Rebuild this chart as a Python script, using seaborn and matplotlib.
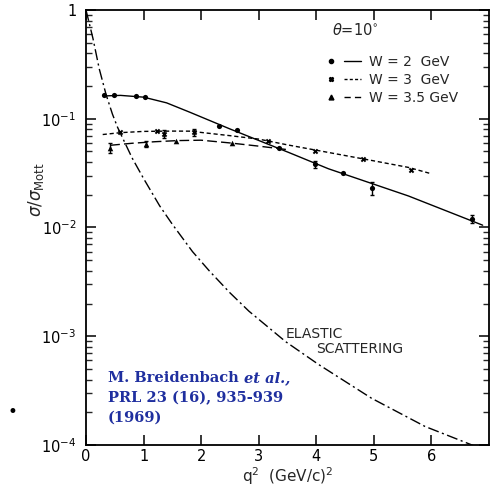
import numpy as np
import pandas as pd
import matplotlib
matplotlib.use("Agg")
import matplotlib.pyplot as plt
import seaborn as sns
from matplotlib.lines import Line2D
from matplotlib.legend_handler import HandlerTuple

# ---------------- data ----------------
w2_x = [0.31, 0.48, 0.86, 1.03, 2.31, 2.63, 3.36, 3.97, 4.46, 4.97, 6.70]
w2_y = [0.164, 0.164, 0.162, 0.160, 0.085, 0.078, 0.054, 0.038, 0.0315, 0.023, 0.0119]
w2_err = [0, 0, 0, 0, 0, 0, 0, 0.003, 0, 0.003, 0.001]

w3_x = [0.59, 1.24, 1.36, 1.87, 3.16, 3.97, 4.82, 5.65]
w3_y = [0.075, 0.077, 0.073, 0.075, 0.063, 0.051, 0.043, 0.034]
w3_err = [0, 0, 0.006, 0.006, 0, 0, 0, 0]

w35_x = [0.41, 1.04, 1.57, 2.53]
w35_y = [0.054, 0.059, 0.062, 0.060]
w35_err = [0.006, 0.004, 0, 0]

fit2_x = [0.30, 0.60, 1.00, 1.40, 1.80, 2.49, 3.52, 4.21, 5.60, 6.89]
fit2_y = [0.162, 0.164, 0.158, 0.140, 0.115, 0.081, 0.049, 0.0347, 0.0195, 0.0105]

fit3_x = [0.29, 0.60, 1.00, 1.50, 1.80, 2.49, 3.00, 3.50, 4.21, 5.00, 5.60, 5.97]
fit3_y = [0.0716, 0.0745, 0.0765, 0.0770, 0.0769, 0.0700, 0.0650, 0.0575, 0.049, 0.041, 0.0357, 0.0315]

fit35_x = [0.42, 0.80, 1.20, 1.60, 2.00, 2.49, 3.00, 3.50]
fit35_y = [0.057, 0.0595, 0.0615, 0.063, 0.0635, 0.060, 0.056, 0.052]

el_x = [0.0, 0.12, 0.23, 0.35, 0.46, 0.55, 0.80, 1.00, 1.28, 1.50, 1.85, 2.14,
        2.50, 2.83, 3.47, 4.04, 4.96, 5.89, 6.80, 7.00]
el_y = [1.0, 0.55, 0.288, 0.166, 0.110, 0.083, 0.0437, 0.0282, 0.0158, 0.0107,
        0.0060, 0.0040, 0.00251, 0.0017, 0.00089, 0.00055, 0.000269, 0.000148,
        0.0000955, 0.0000832]

x_ticks = [0, 1, 2, 3, 4, 5, 6]
x_ticklabels = ["0", "1", "2", "3", "4", "5", "6"]
y_ticks = [1e-4, 1e-3, 1e-2, 1e-1, 1]
y_ticklabels = ["$10^{-4}$", "$10^{-3}$", "$10^{-2}$", "$10^{-1}$", "1"]
legend_labels = ["W = 2  GeV", "W = 3  GeV", "W = 3.5 GeV"]

# ---------------- figure ----------------
sns.set_style("ticks")
plt.rcParams["font.family"] = ["DejaVu Sans"]
plt.rcParams["mathtext.fontset"] = "dejavusans"

fig = plt.figure(figsize=(4.91, 4.86), dpi=100)
ax = fig.add_axes([86 / 491, 1 - 445 / 486, 403 / 491, 435 / 486])
ax.set_yscale("log")
ax.set_xlim(0, 7)
ax.set_ylim(1e-4, 1)

lw = 1.0
sns.lineplot(x=fit2_x, y=fit2_y, ax=ax, color="k", lw=lw, sort=False, estimator=None)
sns.lineplot(x=fit3_x, y=fit3_y, ax=ax, color="k", lw=lw, sort=False, estimator=None,
             linestyle=(0, (3, 2)))
sns.lineplot(x=fit35_x, y=fit35_y, ax=ax, color="k", lw=lw, sort=False, estimator=None,
             linestyle=(0, (7, 3)))
sns.lineplot(x=el_x, y=el_y, ax=ax, color="k", lw=lw, sort=False, estimator=None,
             linestyle=(0, (8, 2.5, 1.5, 2.5)))

sns.scatterplot(x=w2_x, y=w2_y, ax=ax, color="k", marker="o", s=14, linewidth=0)
sns.scatterplot(x=w3_x, y=w3_y, ax=ax, color="k", marker="X", s=16, linewidth=0)
sns.scatterplot(x=w35_x, y=w35_y, ax=ax, color="k", marker="^", s=16, linewidth=0)
for xs, ys, es in [(w2_x, w2_y, w2_err), (w3_x, w3_y, w3_err), (w35_x, w35_y, w35_err)]:
    xs_e = [a for a, e in zip(xs, es) if e > 0]
    ys_e = [b for b, e in zip(ys, es) if e > 0]
    ee = [e for e in es if e > 0]
    ax.errorbar(xs_e, ys_e, yerr=ee, fmt="none", ecolor="k", elinewidth=1.0, capsize=1.5)

# ticks
ax.set_xticks(x_ticks)
ax.set_xticklabels(x_ticklabels)
ax.set_yticks(y_ticks)
ax.set_yticklabels(y_ticklabels)
ax.yaxis.set_minor_locator(matplotlib.ticker.LogLocator(base=10, subs=np.arange(2, 10)))
ax.yaxis.set_minor_formatter(matplotlib.ticker.NullFormatter())
ax.xaxis.set_minor_locator(matplotlib.ticker.NullLocator())
ax.tick_params(axis="both", which="major", direction="in", length=7, width=1.1,
               top=True, right=True, labelsize=10.5, pad=3, colors="k")
ax.tick_params(axis="y", which="minor", direction="in", length=4, width=1.0,
               left=True, right=True)
ax.tick_params(axis="y", which="major", pad=7)
for sp in ax.spines.values():
    sp.set_linewidth(1.3)
    sp.set_color("k")

ax.set_xlabel("q$^2$  (GeV/c)$^2$", fontsize=11, labelpad=1)
ax.set_ylabel(r"$\sigma/\sigma_{\rm Mott}$", fontsize=12)
ax.yaxis.set_label_coords(-0.10, 0.586)

# legend
h2 = (Line2D([], [], marker="o", ls="none", ms=3, color="k"), Line2D([], [], ls="-", lw=lw, color="k"))
h3 = (Line2D([], [], marker="X", ls="none", ms=3, color="k"), Line2D([], [], ls=(0, (2.2, 1.6)), lw=lw, color="k"))
h35 = (Line2D([], [], marker="^", ls="none", ms=3.5, color="k"), Line2D([], [], ls=(0, (4.5, 3)), lw=lw, color="k"))
ax.legend([h2, h3, h35], legend_labels, handler_map={tuple: HandlerTuple(ndivide=None, pad=0.3)},
          loc="upper left", bbox_to_anchor=((322 - 86) / 403, 1 - (55 - 10) / 435),
          frameon=False, fontsize=10, handlelength=2.8, handletextpad=0.55,
          labelspacing=0.3, borderpad=0, borderaxespad=0)

ax.text((332 - 86) / 403, 1 - (30 - 10) / 435, r"$\theta$=10$^{\circ}$", transform=ax.transAxes,
        fontsize=10.5, va="center", ha="left")
ax.text(3.47, 10 ** -2.98, "ELASTIC", fontsize=10, va="center", ha="left")
ax.text(3.99, 10 ** -3.12, "SCATTERING", fontsize=10, va="center", ha="left")

# citation
blue = "#1f2f9f"
fs = 10.5
t1 = fig.text(108 / 491, 1 - 385 / 486, "M. Breidenbach", color=blue, fontsize=fs,
              fontweight="bold", family="DejaVu Serif", va="bottom", ha="left")
ax.annotate("et al.,", xy=(1, 0), xycoords=t1, xytext=(4, 0), textcoords="offset points",
            color=blue, fontsize=fs, fontweight="bold", fontstyle="italic",
            family="DejaVu Serif", va="bottom", ha="left", annotation_clip=False)
fig.text(108 / 491, 1 - 405 / 486, "PRL 23 (16), 935-939", color=blue, fontsize=fs,
         fontweight="bold", family="DejaVu Serif", va="bottom", ha="left")
fig.text(108 / 491, 1 - 425 / 486, "(1969)", color=blue, fontsize=fs,
         fontweight="bold", family="DejaVu Serif", va="bottom", ha="left")
fig.text(8 / 491, 1 - 412 / 486, "•", fontsize=12, va="center", ha="left", color="k")

fig.savefig("out.png", dpi=100)
